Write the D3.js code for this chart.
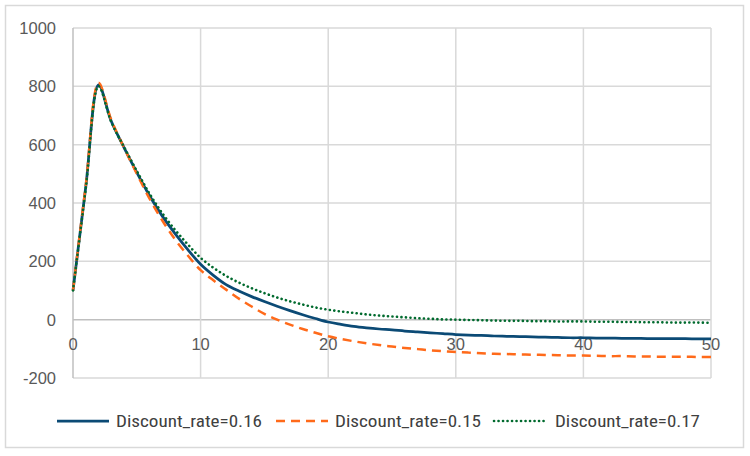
<!DOCTYPE html>
<html><head><meta charset="utf-8">
<script src="https://cdn.jsdelivr.net/npm/d3@7"></script>
<style>body{margin:0;background:#fff;} svg{display:block;}</style>
</head><body>
<svg id="c" width="750" height="456"></svg>
<script>
const years = d3.range(0, 51);
const rate016 = [100,455,805,680,590,505,425,355,295,240,190,152,120,98,79,62,46,31,17,4,-8,-16,-23,-28,-32,-35,-39,-42,-45,-48,-51,-53,-54,-56,-57,-58,-59,-60,-61,-62,-62,-63,-63,-64,-64,-65,-65,-65,-65,-66,-66];
const rate015 = [100,460,812,685,590,500,415,340,275,220,170,135,103,72,45,20,0,-17,-32,-45,-57,-66,-74,-81,-87,-92,-97,-101,-105,-108,-111,-113,-115,-117,-118,-119,-120,-121,-122,-123,-123,-124,-125,-125,-126,-126,-127,-127,-127,-128,-128];
const rate017 = [100,450,800,678,592,510,432,365,308,258,212,178,150,127,108,91,76,63,52,42,34,28,23,18,14,11,8,5,3,1,0,-1,-2,-3,-4,-4,-5,-5,-6,-6,-6,-7,-7,-8,-8,-9,-9,-10,-10,-10,-11];
const seriesNames = ["Discount_rate=0.16","Discount_rate=0.15","Discount_rate=0.17"];
const xTicks = [0,10,20,30,40,50];
const yTicks = [-200,0,200,400,600,800,1000];

const series = [
  {name: seriesNames[0], values: rate016, color: "#0b4a75", dash: null, width: 2.75, cap: "butt"},
  {name: seriesNames[1], values: rate015, color: "#ff6a1a", dash: "9,6", width: 2.5, cap: "butt"},
  {name: seriesNames[2], values: rate017, color: "#006a2e", dash: "0.1,4.4", width: 2.6, cap: "round"}
];

const svg = d3.select("#c");
svg.append("rect").attr("x",5.5).attr("y",5.5).attr("width",738).attr("height",442)
  .attr("fill","#fff").attr("stroke","#d9d9d9").attr("stroke-width",1.5);

const x = d3.scaleLinear().domain([0,50]).range([73,711]);
const y = d3.scaleLinear().domain([-200,1000]).range([378,28]);

const grid = svg.append("g");
grid.selectAll(".hg").data(yTicks).join("line")
  .attr("x1",x(0)).attr("x2",x(50)).attr("y1",d=>y(d)).attr("y2",d=>y(d))
  .attr("stroke",d=>d===0?"#bfbfbf":"#d9d9d9").attr("stroke-width",1.5);
grid.selectAll(".vg").data(xTicks).join("line")
  .attr("y1",y(-200)).attr("y2",y(1000)).attr("x1",d=>x(d)).attr("x2",d=>x(d))
  .attr("stroke",d=>d===0?"#bfbfbf":"#d9d9d9").attr("stroke-width",1.5);

const font = "Arial, 'Liberation Sans', sans-serif";
svg.append("g").selectAll("text").data(yTicks).join("text")
  .attr("x",56).attr("y",d=>y(d)).attr("dy","0.36em").attr("text-anchor","end")
  .attr("font-family",font).attr("font-size",16.5).attr("fill","#595959").text(d=>d);
svg.append("g").selectAll("text").data(xTicks).join("text")
  .attr("x",d=>x(d)).attr("y",y(0)+24).attr("dy","0.36em").attr("text-anchor","middle")
  .attr("font-family",font).attr("font-size",16.5).attr("fill","#595959").text(d=>d);

const line = d3.line().x((d,i)=>x(years[i])).y(d=>y(d)).curve(d3.curveCatmullRom.alpha(0.5));
series.forEach(s=>{
  svg.append("path").datum(s.values).attr("d",line).attr("fill","none")
    .attr("stroke",s.color).attr("stroke-width",s.width)
    .attr("stroke-dasharray",s.dash).attr("stroke-linecap",s.cap).attr("stroke-linejoin","round");
});

const legFont = "'Liberation Sans Narrow', 'Roboto Condensed', 'Noto Sans', sans-serif";
const leg = [{x1:57,x2:109,tx:116,w:146},{x1:276,x2:328,tx:335,w:146},{x1:494,x2:545,tx:555,w:145}];
series.forEach((s,i)=>{
  const L = leg[i];
  const g = svg.append("g");
  g.append("line").attr("x1",L.x1).attr("x2",L.x2).attr("y1",421).attr("y2",421)
    .attr("stroke",s.color).attr("stroke-width",s.width).attr("stroke-dasharray",s.dash).attr("stroke-linecap",s.cap);
  g.append("text").attr("x",L.tx).attr("y",421).attr("dy","0.36em")
    .attr("font-family",legFont).attr("font-size",17).attr("fill","#404040")
    .attr("textLength",L.w).attr("lengthAdjust","spacingAndGlyphs").text(s.name);
});
</script>
</body></html>
